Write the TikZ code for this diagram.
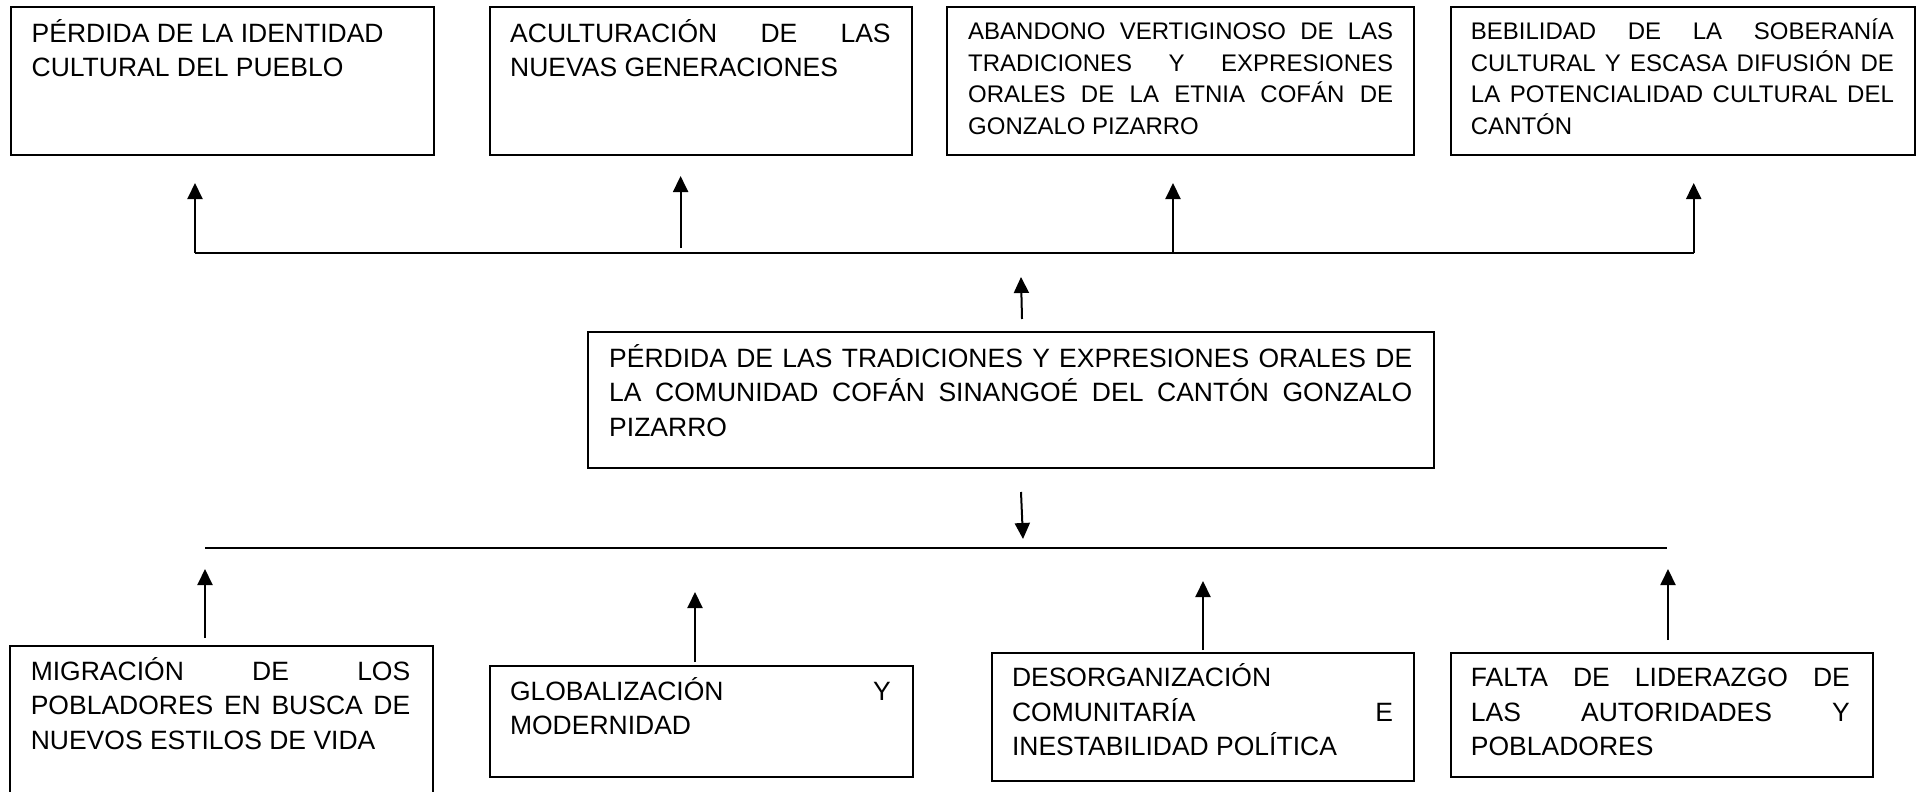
\documentclass[tikz,border=0pt]{standalone}
\usepackage{fontspec}
\setmainfont{Liberation Sans}
\usetikzlibrary{arrows.meta}
\newcommand\FontBig{\fontsize{26.5pt}{34.5pt}\selectfont\tolerance=10000\hbadness=10000\hyphenpenalty=10000\exhyphenpenalty=10000}
\newcommand\FontSmall{\fontsize{24pt}{31.7pt}\selectfont\tolerance=10000\hbadness=10000\hyphenpenalty=10000\exhyphenpenalty=10000}
\begin{document}
\begin{tikzpicture}[x=1pt,y=-1pt,
  box/.style={draw, line width=2pt, rectangle, anchor=north west, inner sep=0pt},
  txt/.style={anchor=base west, inner sep=0pt, align=justify, font=\FontBig},
  txts/.style={anchor=base west, inner sep=0pt, align=justify, font=\FontSmall},
  arr/.style={line width=2pt, -{Triangle[length=16pt,width=15pt]}},
  hline/.style={line width=2pt}]
\useasboundingbox (0,0) rectangle (1919,792);
\clip (0,0) rectangle (1919,792);
% top boxes
\node[box, minimum width=423pt, minimum height=148.3pt] (b1) at (10.4,5.7) {};
\node[box, minimum width=422.6pt, minimum height=148.3pt] (b2) at (488.6,5.7) {};
\node[box, minimum width=467pt, minimum height=148.3pt] (b3) at (946,5.7) {};
\node[box, minimum width=464.5pt, minimum height=148.3pt] (b4) at (1449.5,5.7) {};
\node[txt, text width=381pt] (t1) at (31.5,42.3) {PÉRDIDA DE LA IDENTIDAD\\CULTURAL DEL PUEBLO};
\node[txt, text width=380.5pt] (t2) at (510,42.3) {ACULTURACIÓN DE LAS\linebreak NUEVAS GENERACIONES};
\node[txts, text width=425pt] (t3) at (968,39.3) {ABANDONO VERTIGINOSO DE LAS\linebreak TRADICIONES Y EXPRESIONES\linebreak ORALES DE LA ETNIA COFÁN DE\linebreak GONZALO PIZARRO};
\node[txts, text width=423pt] (t4) at (1470.7,39.3) {BEBILIDAD DE LA SOBERANÍA\linebreak CULTURAL Y ESCASA DIFUSIÓN DE\linebreak LA POTENCIALIDAD CULTURAL DEL\linebreak CANTÓN};
% middle box
\node[box, minimum width=846pt, minimum height=136pt] (m) at (587,331) {};
\node[txt, text width=803pt] (tm) at (609,367) {PÉRDIDA DE LAS TRADICIONES Y EXPRESIONES ORALES DE\linebreak LA COMUNIDAD COFÁN SINANGOÉ DEL CANTÓN GONZALO\linebreak PIZARRO};
% bottom boxes
\node[box, minimum width=423pt, minimum height=200pt] (c1) at (8.6,645) {};
\node[box, minimum width=423pt, minimum height=111pt] (c2) at (488.6,665) {};
\node[box, minimum width=422pt, minimum height=128pt] (c3) at (991,652) {};
\node[box, minimum width=422.5pt, minimum height=124pt] (c4) at (1449.5,652) {};
\node[txt, text width=379.5pt] (u1) at (30.6,680) {MIGRACIÓN DE LOS\linebreak POBLADORES EN BUSCA DE\linebreak NUEVOS ESTILOS DE VIDA};
\node[txt, text width=380.7pt] (u2) at (509.8,700) {GLOBALIZACIÓN Y\linebreak MODERNIDAD};
\node[txt, text width=381pt] (u3) at (1011.8,686.7) {DESORGANIZACIÓN\linebreak COMUNITARÍA E\linebreak INESTABILIDAD POLÍTICA};
\node[txt, text width=379pt] (u4) at (1470.7,686.5) {FALTA DE LIDERAZGO DE\linebreak LAS AUTORIDADES Y\linebreak POBLADORES};
% top connector
\coordinate (hl) at (195,253);
\coordinate (hr) at (1693.7,253);
\draw[hline] (hl) -- (hr);
\coordinate (a1) at (195,183); \coordinate (a2s) at (680.6,248); \coordinate (a2) at (680.6,176);
\coordinate (a3s) at (1173,253); \coordinate (a3) at (1173,183); \coordinate (a4) at (1693.7,183);
\draw[arr] (hl) -- (a1);
\draw[arr] (a2s) -- (a2);
\draw[arr] (a3s) -- (a3);
\draw[arr] (hr) -- (a4);
% middle arrows
\coordinate (mu0) at (1022,319); \coordinate (mu1) at (1021,277);
\draw[arr] (mu0) -- (mu1);
\coordinate (md0) at (1021,492); \coordinate (md1) at (1023,539);
\draw[arr] (md0) -- (md1);
% bottom connector
\coordinate (bl) at (205,548); \coordinate (br) at (1667,548);
\draw[hline] (bl) -- (br);
\coordinate (d1s) at (205,638); \coordinate (d1) at (205,569);
\coordinate (d2s) at (695,662); \coordinate (d2) at (695,592);
\coordinate (d3s) at (1203,650); \coordinate (d3) at (1203,581);
\coordinate (d4s) at (1668,640); \coordinate (d4) at (1668,569);
\draw[arr] (d1s) -- (d1);
\draw[arr] (d2s) -- (d2);
\draw[arr] (d3s) -- (d3);
\draw[arr] (d4s) -- (d4);
\end{tikzpicture}
\end{document}
